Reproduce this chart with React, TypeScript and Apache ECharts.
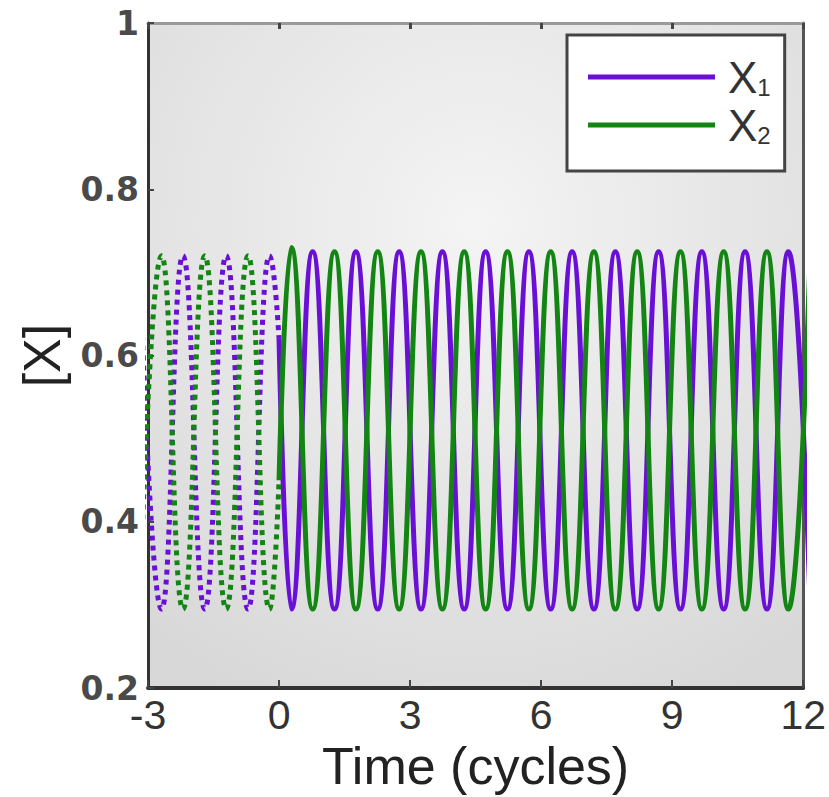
import { useEffect, useRef } from 'react';
import * as echarts from 'echarts';

// Time axis (cycles) and concentration axis ticks
const xTickValues = [-3, 0, 3, 6, 9, 12];
const yTickValues = [0.2, 0.4, 0.6, 0.8, 1];

const seriesNames = ['X₁', 'X₂'];

// X1 (purple) – extrema, solid part (t >= 0)
const x1Solid: [number, number][] = [
  [0, 0.62],
  [0.28, 0.295], [0.77, 0.725], [1.27, 0.295], [1.76, 0.725], [2.26, 0.295], [2.75, 0.725],
  [3.25, 0.295], [3.74, 0.725], [4.24, 0.295], [4.73, 0.725], [5.23, 0.295], [5.72, 0.725],
  [6.22, 0.295], [6.71, 0.725], [7.21, 0.295], [7.7, 0.725], [8.2, 0.295], [8.69, 0.725],
  [9.19, 0.295], [9.68, 0.725], [10.18, 0.295], [10.67, 0.725], [11.17, 0.295], [11.66, 0.725],
  [12.16, 0.295],
];

// X2 (green) – solid part (t >= 0)
const x2Solid: [number, number][] = [
  [0, 0.45],
  [0.28, 0.73], [0.77, 0.295], [1.27, 0.725], [1.76, 0.295], [2.26, 0.725], [2.75, 0.295],
  [3.25, 0.725], [3.74, 0.295], [4.24, 0.725], [4.73, 0.295], [5.23, 0.725], [5.72, 0.295],
  [6.22, 0.725], [6.71, 0.295], [7.21, 0.725], [7.7, 0.295], [8.2, 0.725], [8.69, 0.295],
  [9.19, 0.725], [9.68, 0.295], [10.18, 0.725], [10.67, 0.295], [11.17, 0.725], [11.66, 0.295],
  [12.16, 0.725],
];

// Dotted pre-period (t < 0)
const x1Dotted: [number, number][] = [
  [-3.19, 0.72], [-2.69, 0.295], [-2.2, 0.72], [-1.7, 0.295], [-1.21, 0.72], [-0.71, 0.295],
  [-0.22, 0.72], [0, 0.62],
];
const x2Dotted: [number, number][] = [
  [-3.19, 0.295], [-2.69, 0.72], [-2.2, 0.295], [-1.7, 0.72], [-1.21, 0.295], [-0.71, 0.72],
  [-0.22, 0.295], [0, 0.45],
];

const PURPLE = '#6a0fd6';
const GREEN = '#128512';

export default function App() {
  const ref = useRef<HTMLDivElement>(null);

  useEffect(() => {
    if (!ref.current) return;
    const chart = echarts.init(ref.current, null, { renderer: 'svg' });
    const xMin = xTickValues[0];
    const xMax = xTickValues[xTickValues.length - 1];
    const xInt = xTickValues[1] - xTickValues[0];
    const yMin = yTickValues[0];
    const yMax = yTickValues[yTickValues.length - 1];
    const yInt = 0.2;

    const lineSeries = (name: string, data: [number, number][], color: string, dotted: boolean) => ({
      type: 'line',
      name,
      data,
      xAxisIndex: 0,
      yAxisIndex: 0,
      smooth: 0.5,
      smoothMonotone: 'x',
      symbol: 'none',
      clip: true,
      lineStyle: { color, width: 5, type: dotted ? [5, 5] : 'solid' },
      itemStyle: { color },
    });

    chart.setOption({
      animation: false,
      backgroundColor: '#ffffff',
      grid: {
        left: 148,
        right: 24,
        top: 23,
        bottom: 107,
        show: true,
        borderWidth: 0,
        backgroundColor: {
          type: 'radial',
          x: 0.5,
          y: 0.3,
          r: 0.8,
          colorStops: [
            { offset: 0, color: '#f4f4f4' },
            { offset: 1, color: '#d8d8d8' },
          ],
        },
      },
      legend: {
        data: seriesNames,
        orient: 'vertical',
        left: 567,
        top: 35,
        padding: [20, 14, 24, 21],
        itemGap: 4,
        itemWidth: 127,
        itemHeight: 5,
        icon: 'rect',
        selectedMode: false,
        backgroundColor: '#ffffff',
        borderColor: '#444444',
        borderWidth: 3,
        borderRadius: 0,
        formatter: (name: string) => `{x|X}{s|${name === seriesNames[0] ? '1' : '2'}}`,
        textStyle: {
          lineHeight: 44,
          rich: {
            x: { fontFamily: 'Liberation Sans', fontSize: 44, color: '#333333', lineHeight: 44, padding: [0, 0, 0, 8] },
            s: { fontFamily: 'Liberation Sans', fontSize: 24, color: '#333333', lineHeight: 26, verticalAlign: 'bottom' },
          },
        },
      },
      xAxis: [
        {
          type: 'value',
          position: 'bottom',
          min: xMin,
          max: xMax,
          interval: xInt,
          name: 'Time (cycles)',
          nameLocation: 'middle',
          nameGap: 46,
          nameTextStyle: { fontFamily: 'Liberation Sans', fontSize: 52, color: '#222222' },
          axisLine: { show: true, onZero: false, lineStyle: { color: '#333333', width: 4 } },
          axisTick: { show: true, inside: true, length: 8, lineStyle: { color: '#444444', width: 2 } },
          axisLabel: { fontFamily: 'Liberation Sans', fontSize: 41, color: '#333333', margin: 6 },
          splitLine: { show: false },
        },
        {
          type: 'value',
          position: 'top',
          min: xMin,
          max: xMax,
          interval: xInt,
          axisLine: { show: true, onZero: false, lineStyle: { color: '#9a9a9a', width: 3 } },
          axisTick: { show: true, inside: true, length: 6, lineStyle: { color: '#444444', width: 3 } },
          axisLabel: { show: false },
          splitLine: { show: false },
        },
      ],
      yAxis: [
        {
          type: 'value',
          position: 'left',
          min: yMin,
          max: yMax,
          interval: yInt,
          name: '[X]',
          nameLocation: 'middle',
          nameGap: 80,
          nameRotate: 90,
          nameTextStyle: { fontFamily: 'Liberation Sans', fontSize: 52, color: '#222222' },
          axisLine: { show: true, onZero: false, lineStyle: { color: '#333333', width: 3 } },
          axisTick: { show: true, inside: true, length: 6, lineStyle: { color: '#444444', width: 2 } },
          axisLabel: { fontFamily: 'DejaVu Sans', fontWeight: 'bold', fontSize: 33, color: '#4a4a4a', margin: 9 },
          splitLine: { show: false },
        },
        {
          type: 'value',
          position: 'right',
          min: yMin,
          max: yMax,
          interval: yInt,
          axisLine: { show: true, onZero: false, lineStyle: { color: '#555555', width: 3 } },
          axisTick: { show: false },
          axisLabel: { show: false },
          splitLine: { show: false },
        },
      ],
      series: [
        lineSeries(seriesNames[0], x1Solid, PURPLE, false),
        lineSeries(seriesNames[1], x2Solid, GREEN, false),
        lineSeries(seriesNames[0], x1Dotted, PURPLE, true),
        lineSeries(seriesNames[1], x2Dotted, GREEN, true),
      ],
    });
    return () => chart.dispose();
  }, []);

  return (
    <div
      ref={ref}
      style={{ position: 'fixed', left: 0, top: 0, width: 829, height: 797 }}
    />
  );
}
